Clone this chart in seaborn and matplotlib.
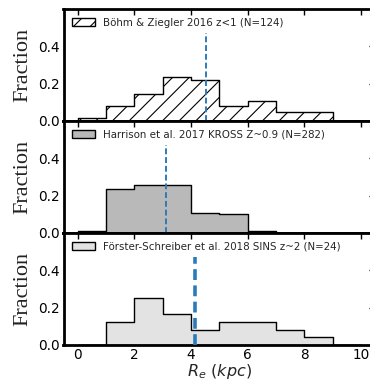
import numpy as np
import pandas as pd
import matplotlib
matplotlib.use("Agg")
import matplotlib.pyplot as plt
import seaborn as sns
from matplotlib.patches import Patch

# ---- data ----
bin_edges = [0, 1, 2, 3, 4, 5, 6, 7, 8, 9, 10]
bohm_frac = [0.016, 0.081, 0.145, 0.234, 0.218, 0.081, 0.105, 0.048, 0.048, 0.0]
harrison_frac = [0.010, 0.238, 0.255, 0.255, 0.106, 0.103, 0.011, 0.0, 0.0, 0.0]
fs_frac = [0.0, 0.125, 0.250, 0.167, 0.083, 0.125, 0.125, 0.083, 0.042, 0.0]
medians = [4.53, 3.12, 4.14]
labels = [
    "Böhm & Ziegler 2016 z<1 (N=124)",
    "Harrison et al. 2017 KROSS Z~0.9 (N=282)",
    "Förster-Schreiber et al. 2018 SINS z~2 (N=24)",
]
x_ticks = [0, 2, 4, 6, 8, 10]
y_ticks = [0.0, 0.2, 0.4]

sns.set_theme(style="white")
plt.rcParams["font.family"] = ["DejaVu Sans"]
plt.rcParams["hatch.linewidth"] = 0.8

W, H, DPI = 370, 382, 100
fig = plt.figure(figsize=(W / DPI, H / DPI), dpi=DPI)

left = 63.5 / W
right = 375.0 / W
top_px, bot_px = 9.0, 345.0
panel_h = (bot_px - top_px) / 3

centers = [(a + b) / 2 for a, b in zip(bin_edges[:-1], bin_edges[1:])]
fracs = [bohm_frac, harrison_frac, fs_frac]
styles = [
    dict(facecolor="white", edgecolor="black", hatch="//"),
    dict(facecolor="#b9b9b9", edgecolor="black"),
    dict(facecolor="#e3e3e3", edgecolor="black"),
]
vline_lw = [1.4, 1.4, 2.6]

axes = []
for i in range(3):
    y0 = 1 - (top_px + (i + 1) * panel_h) / H
    ax = fig.add_axes([left, y0, right - left, panel_h / H])
    axes.append(ax)
    df = pd.DataFrame({"Re": centers, "w": fracs[i]})
    sns.histplot(data=df, x="Re", weights="w", bins=bin_edges, element="step",
                 fill=True, alpha=1, linewidth=1.0, ax=ax, **styles[i])
    ax.axvline(medians[i], ymin=0, ymax=0.47 / 0.6, color="#2b7bba",
               linestyle=(0, (3, 1.5)), linewidth=vline_lw[i], zorder=5)
    ax.set_xlim(-0.5, 10.5)
    ax.set_ylim(0, 0.6)
    ax.set_xticks(x_ticks)
    ax.set_yticks(y_ticks)
    ax.set_yticklabels([f"{v:.1f}" for v in y_ticks])
    ax.tick_params(direction="in", top=True, right=True, length=4.5, width=1,
                   labelsize=9.8, pad=3, colors="black")
    ax.tick_params(axis="x", pad=2)
    for s in ax.spines.values():
        s.set_linewidth(2.0)
        s.set_color("black")
    ax.set_ylabel("Fraction", family="Liberation Serif", fontsize=16,
                  labelpad=3.5, color="#222222")
    ax.set_xlabel("")
    if i < 2:
        ax.tick_params(labelbottom=False)
    handle = Patch(linewidth=1.0, **styles[i])
    ax.legend([handle], [labels[i]], loc="upper left", frameon=False,
              fontsize=7.4, handlelength=2.2, handleheight=0.75,
              handletextpad=0.75, borderaxespad=0.45, borderpad=0.4)

axes[-1].set_xlabel(r"$R_e\ (kpc)$", fontsize=11.5, labelpad=0)

fig.savefig("out.png", dpi=DPI, facecolor="white")
